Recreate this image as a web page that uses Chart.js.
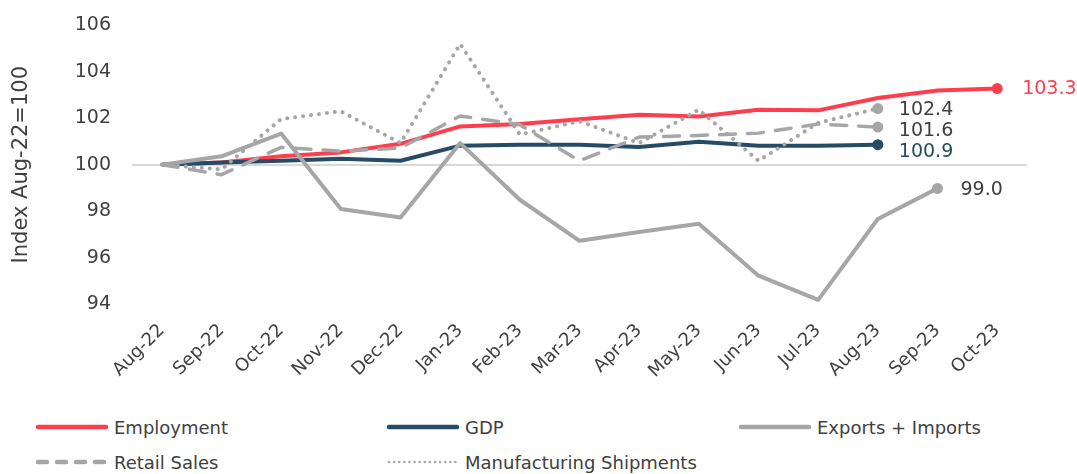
<!DOCTYPE html>
<html>
<head>
<meta charset="utf-8">
<script src="https://cdn.jsdelivr.net/npm/chart.js@4/dist/chart.umd.min.js"></script>
<style>
  body { margin: 0; background: #fff; font-family: 'DejaVu Sans', sans-serif; }
  #wrap { position: relative; width: 1077px; height: 474px; overflow: hidden; }
  #chart { position: absolute; left: 0; top: -7px; }
  #legend { position: absolute; left: 35px; top: 415px; display: grid;
            grid-template-columns: 351px 352px 300px; row-gap: 11px; }
  .item { display: flex; align-items: center; font-size: 18px; color: #404040; height: 24px; }
  .item svg { margin-right: 5px; }
</style>
</head>
<body>
<div id="wrap">
  <canvas id="chart" width="1077" height="400"></canvas>
  <div id="legend"></div>
</div>
<script>
var months = ['Aug-22','Sep-22','Oct-22','Nov-22','Dec-22','Jan-23','Feb-23','Mar-23',
              'Apr-23','May-23','Jun-23','Jul-23','Aug-23','Sep-23','Oct-23'];
var employment = [100, 100.1, 100.36, 100.53, 100.9, 101.65, 101.75, 101.96, 102.15, 102.08, 102.37, 102.34, 102.87, 103.2, 103.28];
var gdp = [100, 100.1, 100.17, 100.26, 100.17, 100.82, 100.86, 100.86, 100.76, 100.99, 100.82, 100.82, 100.86, null, null];
var trade = [100, 100.36, 101.34, 98.09, 97.73, 100.93, 98.49, 96.72, 97.1, 97.46, 95.22, 94.18, 97.66, 98.98, null];
var retail = [100, 99.57, 100.75, 100.58, 100.72, 102.1, 101.72, 100.17, 101.19, 101.26, 101.36, 101.75, 101.62, null, null];
var manufacturing = [100, 99.8, 101.97, 102.3, 100.93, 105.2, 101.3, 101.87, 100.93, 102.37, 100.17, 101.8, 102.42, null, null];
var yTicks = [94, 96, 98, 100, 102, 104, 106];

var RED = '#FF3E4D', NAVY = '#264B67', GRAY = '#A6A6A6', TEXT = '#404040';
var FONT = "'DejaVu Sans', sans-serif";

function lastIndex(arr) {
    for (var i = arr.length - 1; i >= 0; i--) if (arr[i] !== null) return i;
    return -1;
}

function makeSet(label, data, color, dash, cap, width, order) {
    var last = lastIndex(data);
    return {
        label: label,
        data: data,
        borderColor: color,
        backgroundColor: color,
        borderWidth: width,
        borderDash: dash,
        borderCapStyle: cap,
        borderJoinStyle: 'round',
        tension: 0,
        pointRadius: function(ctx) { return ctx.dataIndex === last ? 5.5 : 0; },
        pointHoverRadius: 5.5,
        pointBorderWidth: 0,
        pointBackgroundColor: color,
        order: order
    };
}

var datasets = [
    makeSet('Employment', employment, RED, [], 'butt', 4, 5),
    makeSet('GDP', gdp, NAVY, [], 'butt', 4, 4),
    makeSet('Exports + Imports', trade, GRAY, [], 'butt', 4, 3),
    makeSet('Retail Sales', retail, GRAY, [16, 12], 'round', 3.5, 2),
    makeSet('Manufacturing Shipments', manufacturing, GRAY, [0.1, 7.9], 'round', 4, 1)
];

// end-of-line value labels
var endLabels = {
    id: 'endLabels',
    afterDatasetsDraw: function(chart, args, opts) {
        var ctx = chart.ctx;
        ctx.save();
        ctx.font = '19px ' + FONT;
        ctx.textBaseline = 'middle';
        ctx.textAlign = 'left';
        chart.data.datasets.forEach(function(ds, i) {
            var idx = lastIndex(ds.data);
            var pt = chart.getDatasetMeta(i).data[idx];
            var off = opts.offsets[i];
            ctx.fillStyle = opts.colors[i];
            ctx.fillText(ds.data[idx].toFixed(1), pt.x + off[0], pt.y + off[1]);
        });
        ctx.restore();
    }
};

new Chart(document.getElementById('chart').getContext('2d'), {
    type: 'line',
    data: { labels: months, datasets: datasets },
    plugins: [endLabels],
    options: {
        responsive: false,
        animation: false,
        layout: { padding: { left: 0, right: 50, top: 14, bottom: 0 } },
        plugins: {
            legend: { display: false },
            tooltip: { enabled: false },
            endLabels: {
                offsets: [[25, 1], [21, 7], [23, 2], [21, 4], [21, 2]],
                colors: [RED, NAVY, TEXT, TEXT, TEXT]
            }
        },
        scales: {
            x: {
                offset: true,
                grid: { display: false },
                border: { display: false },
                ticks: {
                    color: TEXT,
                    font: { family: FONT, size: 18 },
                    minRotation: 45,
                    maxRotation: 45,
                    autoSkip: false,
                    padding: 8
                },
                afterFit: function(s) { s.height = 89; }
            },
            y: {
                min: 94,
                max: 106,
                afterBuildTicks: function(s) { s.ticks = yTicks.map(function(v) { return { value: v }; }); },
                grid: {
                    drawTicks: false,
                    lineWidth: 2,
                    color: function(ctx) { return ctx.tick && ctx.tick.value === 100 ? '#D9D9D9' : 'rgba(0,0,0,0)'; }
                },
                border: { display: false },
                ticks: {
                    color: TEXT,
                    font: { family: FONT, size: 19 },
                    padding: 21
                },
                title: {
                    display: true,
                    text: 'Index Aug-22=100',
                    color: TEXT,
                    font: { family: FONT, size: 21 },
                    padding: { top: 9, bottom: 0 }
                },
                afterFit: function(s) { s.width = 132; }
            }
        }
    }
});

// legend, laid out in columns like the original
var legendEl = document.getElementById('legend');
datasets.forEach(function(ds) {
    var item = document.createElement('div');
    item.className = 'item';
    var dotted = ds.borderDash[0] === 0.1;
    var dash = ds.borderDash.length ? ' stroke-dasharray="' + (dotted ? '0.1 5' : '9 10') + '"' : '';
    var w = dotted ? 2.5 : 4.5;
    item.innerHTML = '<svg width="74" height="10"><line x1="3" y1="5" x2="71" y2="5" stroke="' + ds.borderColor +
        '" stroke-width="' + w + '" stroke-linecap="round"' + dash + '/></svg>' + ds.label;
    legendEl.appendChild(item);
});
</script>
</body>
</html>
